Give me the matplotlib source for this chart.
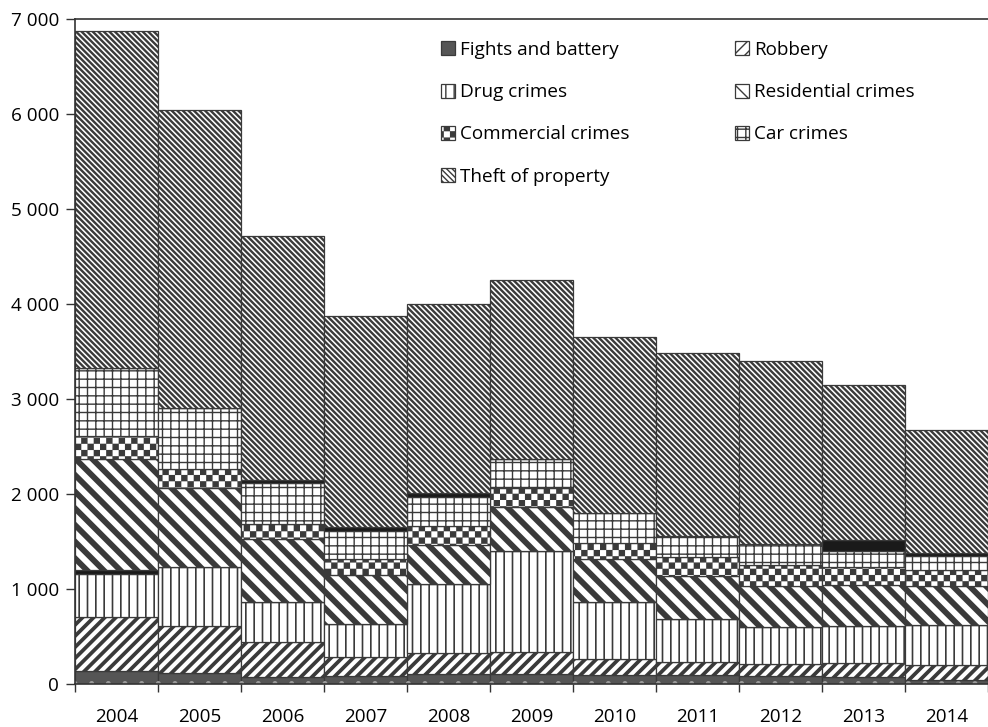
import numpy as np
import matplotlib
matplotlib.use('Agg')
import matplotlib.pyplot as plt
import matplotlib.hatch as mhatch
from matplotlib.path import Path
from matplotlib.ticker import FuncFormatter

years = ['2004', '2005', '2006', '2007', '2008', '2009', '2010', '2011', '2012', '2013', '2014']
fights = [140, 112, 77, 80, 105, 110, 95, 95, 84, 77, 45]
robbery = [568, 498, 368, 207, 225, 230, 165, 140, 126, 141, 155]
drug = [450, 625, 421, 345, 723, 1063, 606, 446, 386, 393, 421]
other_low = [42, 0, 0, 0, 0, 0, 0, 0, 0, 0, 0]
residential = [1165, 825, 657, 515, 410, 463, 446, 456, 436, 431, 411]
commercial = [245, 200, 161, 165, 200, 194, 176, 196, 221, 193, 168]
car = [720, 650, 435, 302, 309, 305, 309, 225, 221, 168, 147]
other_high = [0, 0, 28, 42, 35, 0, 0, 0, 0, 113, 35]
theft = [3540, 3130, 2568, 2214, 1993, 1885, 1853, 1922, 1926, 1634, 1293]


# checkerboard hatch, takes the place of the '*' pattern
class CheckerHatch(mhatch.HatchPatternBase):
    def __init__(self, hatch, density):
        self.n = hatch.count('*') * 8
        self.num_vertices = (self.n * self.n // 2) * 5

    def set_vertices_and_codes(self, vertices, codes):
        n = self.n
        step = 1.0 / n
        s = step * 0.8
        k = 0
        for i in range(n):
            for j in range(n):
                if (i + j) % 2:
                    continue
                x0 = i * step + (step - s) / 2
                y0 = j * step + (step - s) / 2
                vertices[k:k + 5] = [(x0, y0), (x0 + s, y0), (x0 + s, y0 + s),
                                     (x0, y0 + s), (x0, y0)]
                codes[k:k + 5] = [Path.MOVETO, Path.LINETO, Path.LINETO,
                                  Path.LINETO, Path.CLOSEPOLY]
                k += 5


mhatch._hatch_types = [CheckerHatch if t is mhatch.Stars else t for t in mhatch._hatch_types]

plt.rcParams['font.family'] = ['Open Sans', 'DejaVu Sans']
plt.rcParams['font.size'] = 13.6

fig = plt.figure(figsize=(9.88, 7.27), dpi=100)
ax = fig.add_axes([75 / 988, 1 - 684 / 727, 913 / 988, 665 / 727])

x = np.arange(len(years))
edge = '#3a3a3a'

series = [
    ('Fights and battery', fights, '#555555', '', 1.0),
    ('Robbery', robbery, 'white', '///', 2.7),
    ('Drug crimes', drug, 'white', '||', 1.2),
    (None, other_low, '#1a1a1a', '', 1.0),
    ('Residential crimes', residential, 'white', '\\\\', 4.2),
    ('Commercial crimes', commercial, 'white', '**', 1.0),
    ('Car crimes', car, 'white', '++', 1.0),
    (None, other_high, '#1a1a1a', '', 1.0),
    ('Theft of property', theft, 'white', '\\' * 6, 1.7),
]

bottom = np.zeros(len(years))
handles = {}
for label, vals, fc, hatch, hlw in series:
    vals = np.array(vals, dtype=float)
    plt.rcParams['hatch.linewidth'] = hlw
    bars = ax.bar(x, vals, width=1.0, bottom=bottom, color=fc, edgecolor=edge,
                  linewidth=0.9, hatch=hatch if hatch else None, label=label)
    for b in bars:
        if hasattr(b, 'set_hatch_linewidth'):
            b.set_hatch_linewidth(hlw)
    if label == 'Fights and battery':
        plt.rcParams['hatch.linewidth'] = 1.0
        dots = ax.bar(x, vals, width=1.0, bottom=bottom, color='none',
                      edgecolor='#9a9a9a', linewidth=0, hatch='.')
    if label:
        handles[label] = bars
    bottom += vals

ax.set_xlim(-0.5, len(years) - 0.5)
ax.set_ylim(0, 7000)

ax.spines['right'].set_visible(False)
for s in ['left', 'bottom', 'top']:
    ax.spines[s].set_color('#333333')
    ax.spines[s].set_linewidth(1.2)

ax.set_yticks(np.arange(0, 7001, 1000))
ax.yaxis.set_major_formatter(FuncFormatter(lambda v, p: f'{int(v):,}'.replace(',', ' ')))
ax.tick_params(axis='y', length=6.5, width=1.0, color='#333333', pad=5)

ax.set_xticks(np.arange(-0.5, len(years), 1.0))
ax.set_xticklabels([])
ax.set_xticks(x, minor=True)
ax.set_xticklabels(years, minor=True)
ax.tick_params(axis='x', which='major', length=6, width=1.0, color='#333333')
ax.tick_params(axis='x', which='minor', length=0, pad=17)

order = ['Fights and battery', 'Drug crimes', 'Commercial crimes', 'Theft of property',
         'Robbery', 'Residential crimes', 'Car crimes']
plt.rcParams['hatch.linewidth'] = 1.0
leg = ax.legend([handles[k] for k in order], order, ncol=2, frameon=False,
                loc='upper left', bbox_to_anchor=(441 / 988, 1 - 41 / 727),
                bbox_transform=fig.transFigure, borderpad=0, borderaxespad=0,
                handlelength=0.75, handleheight=0.75, handletextpad=0.25,
                labelspacing=1.28, columnspacing=5.6)

fig.savefig('out.png', dpi=100)
